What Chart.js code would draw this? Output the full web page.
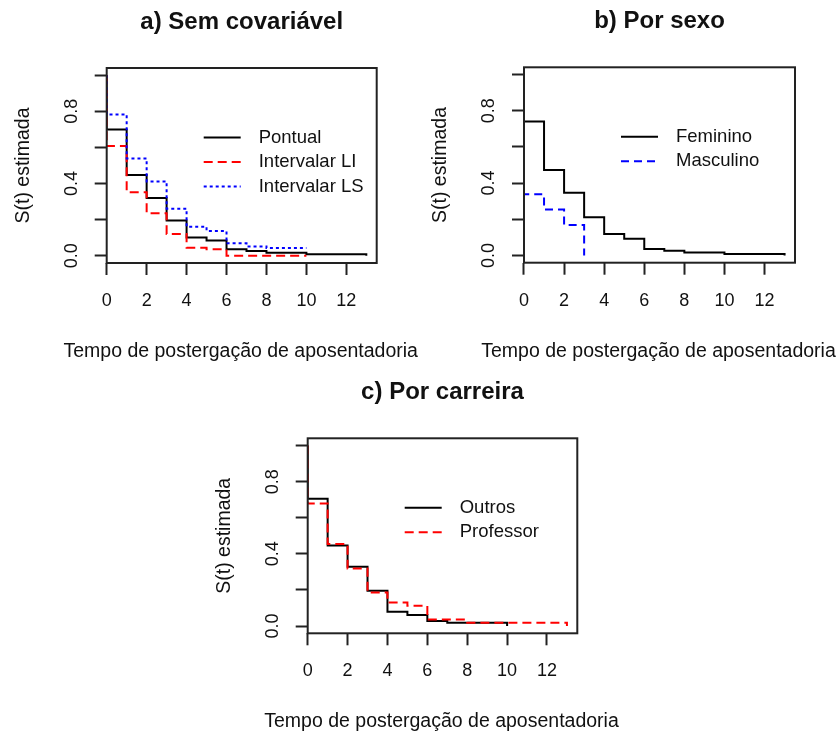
<!DOCTYPE html>
<html>
<head>
<meta charset="utf-8">
<script src="https://cdn.jsdelivr.net/npm/chart.js@4.4.1/dist/chart.umd.min.js"></script>
<style>
  body { margin: 0; background: #fff; }
  #wrap { position: relative; width: 837px; height: 734px; }
  canvas { position: absolute; }
</style>
</head>
<body>
<div id="wrap">
  <canvas id="ga" width="428" height="372" style="left:0;top:0"></canvas>
  <canvas id="gb" width="409" height="372" style="left:428px;top:0"></canvas>
  <canvas id="gc" width="420" height="362" style="left:210px;top:372px"></canvas>
</div>
<script>
// curvas de Kaplan-Meier (tempo, S(t))
const tempoPontual = [0, 0, 1, 2, 3, 4, 5, 6, 7, 8, 10, 13];
const sPontual = [1, 0.700, 0.448, 0.320, 0.195, 0.101, 0.084, 0.036, 0.026, 0.017, 0.008, 0];
const tempoIC = [0, 0, 1, 2, 3, 4, 5, 6, 7, 8, 10];
const sLI = [1, 0.608, 0.352, 0.235, 0.120, 0.045, 0.036, 0, 0, 0, 0];
const sLS = [1, 0.783, 0.539, 0.412, 0.261, 0.161, 0.137, 0.069, 0.052, 0.043, 0.043];

const tempoFem = [0, 0, 1, 2, 3, 4, 5, 6, 7, 8, 10, 13];
const sFem = [1, 0.740, 0.473, 0.347, 0.211, 0.119, 0.093, 0.036, 0.026, 0.017, 0.008, 0];
const tempoMasc = [0, 0, 1, 2, 3];
const sMasc = [1, 0.338, 0.254, 0.169, 0];

const tempoOutros = [0, 0, 1, 2, 3, 4, 5, 6, 7, 10];
const sOutros = [1, 0.705, 0.446, 0.329, 0.195, 0.080, 0.062, 0.028, 0.018, 0];
const tempoProf = [0, 0, 1, 2, 3, 4, 5, 6, 8, 13];
const sProf = [1, 0.679, 0.455, 0.319, 0.186, 0.130, 0.113, 0.037, 0.018, 0];

const xTicks = [0, 2, 4, 6, 8, 10, 12];
const yTicks = [0, 0.2, 0.4, 0.6, 0.8, 1];
const yTickLabels = ['0.0', '', '0.4', '', '0.8', ''];
const rotuloX = 'Tempo de postergação de aposentadoria';
const rotuloY = 'S(t) estimada';

const fonte = "'Liberation Sans', Arial, sans-serif";

const caixa = {
  id: 'caixa',
  afterDatasetsDraw(chart) {
    const {ctx, chartArea: a} = chart;
    ctx.save();
    ctx.strokeStyle = '#222';
    ctx.lineWidth = 2;
    ctx.strokeRect(a.left, a.top, a.right - a.left, a.bottom - a.top);
    ctx.restore();
  }
};

const legendaR = {
  id: 'legendaR',
  afterDraw(chart) {
    const {ctx, chartArea: a} = chart;
    ctx.save();
    ctx.font = '18.5px ' + fonte;
    ctx.textBaseline = 'middle';
    ctx.textAlign = 'left';
    chart.data.datasets.forEach((ds, i) => {
      let y = a.top + 69.5 + i * 24.5;
      ctx.strokeStyle = ds.borderColor;
      ctx.lineWidth = 2;
      ctx.setLineDash(ds.borderDash || []);
      ctx.beginPath();
      ctx.moveTo(a.left + 97, y);
      ctx.lineTo(a.left + 134, y);
      ctx.stroke();
      ctx.setLineDash([]);
      ctx.fillStyle = '#111';
      ctx.fillText(ds.label, a.left + 152, y);
    });
    ctx.restore();
  }
};

const tituloX = {
  id: 'tituloX',
  afterDraw(chart) {
    const {ctx, chartArea: a} = chart;
    ctx.save();
    ctx.font = '19.5px ' + fonte;
    ctx.fillStyle = '#111';
    ctx.textAlign = 'center';
    ctx.textBaseline = 'middle';
    ctx.fillText(rotuloX, (a.left + a.right) / 2 - 1, a.bottom + 88.5);
    ctx.restore();
  }
};

let painel = (id, titulo, series, area) => {
  let cv = document.getElementById(id);
  let ctx = cv.getContext('2d');
  return new Chart(ctx, {
    type: 'line',
    data: {
      datasets: series.map((s, i) => ({
        label: s.nome,
        data: s.t.map((t, k) => ({x: t, y: s.s[k]})),
        borderColor: s.cor,
        borderDash: s.traco,
        borderWidth: 2,
        stepped: true,
        pointRadius: 0,
        fill: false,
        order: series.length - i
      }))
    },
    options: {
      responsive: false,
      animation: false,
      devicePixelRatio: 1,
      layout: {
        padding: {left: area.left - 94.7, right: cv.width - area.right, top: 0, bottom: cv.height - area.bottom - 64}
      },
      plugins: {
        legend: {display: false},
        tooltip: {enabled: false},
        title: {
          display: true,
          text: titulo,
          fullSize: false,
          color: '#111',
          font: {family: fonte, size: 24, weight: 'bold'},
          padding: {top: area.top - 60.4, bottom: 31.6}
        }
      },
      scales: {
        x: {
          type: 'linear',
          min: 0,
          max: 13.52,
          afterBuildTicks: sc => { sc.ticks = xTicks.map(v => ({value: v})); },
          ticks: {
            color: '#111', font: {family: fonte, size: 18},
            padding: 15.2, minRotation: 0, maxRotation: 0, autoSkip: false,
            callback: v => String(v)
          },
          grid: {drawOnChartArea: false, tickLength: 12, tickColor: '#222', tickWidth: 2},
          border: {display: false}
        },
        y: {
          min: -0.04,
          max: 1.04,
          afterBuildTicks: sc => { sc.ticks = yTicks.map(v => ({value: v})); },
          ticks: {
            color: '#111', font: {family: fonte, size: 18},
            padding: 10.2, minRotation: 90, maxRotation: 90, crossAlign: 'center', autoSkip: false,
            callback: (v, i) => yTickLabels[i]
          },
          title: {
            display: true, text: rotuloY, color: '#111',
            font: {family: fonte, size: 19.5},
            padding: {top: 0, bottom: 17.3}
          },
          grid: {drawOnChartArea: false, tickLength: 12, tickColor: '#222', tickWidth: 2},
          border: {display: false}
        }
      }
    },
    plugins: [caixa, legendaR, tituloX]
  });
};

painel('ga', 'a) Sem covariável', [
  {nome: 'Pontual', t: tempoPontual, s: sPontual, cor: '#000000', traco: []},
  {nome: 'Intervalar LI', t: tempoIC, s: sLI, cor: '#ff0000', traco: [9, 5]},
  {nome: 'Intervalar LS', t: tempoIC, s: sLS, cor: '#0000ff', traco: [3, 3]}
], {left: 106.7, right: 376.7, top: 68, bottom: 263});

painel('gb', 'b) Por sexo', [
  {nome: 'Feminino', t: tempoFem, s: sFem, cor: '#000000', traco: []},
  {nome: 'Masculino', t: tempoMasc, s: sMasc, cor: '#0000ff', traco: [8, 5]}
], {left: 96, right: 367, top: 67.3, bottom: 262.7});

painel('gc', 'c) Por carreira', [
  {nome: 'Outros', t: tempoOutros, s: sOutros, cor: '#000000', traco: []},
  {nome: 'Professor', t: tempoProf, s: sProf, cor: '#ff0000', traco: [9, 5]}
], {left: 97.7, right: 367.3, top: 66.3, bottom: 261.3});
</script>
</body>
</html>
